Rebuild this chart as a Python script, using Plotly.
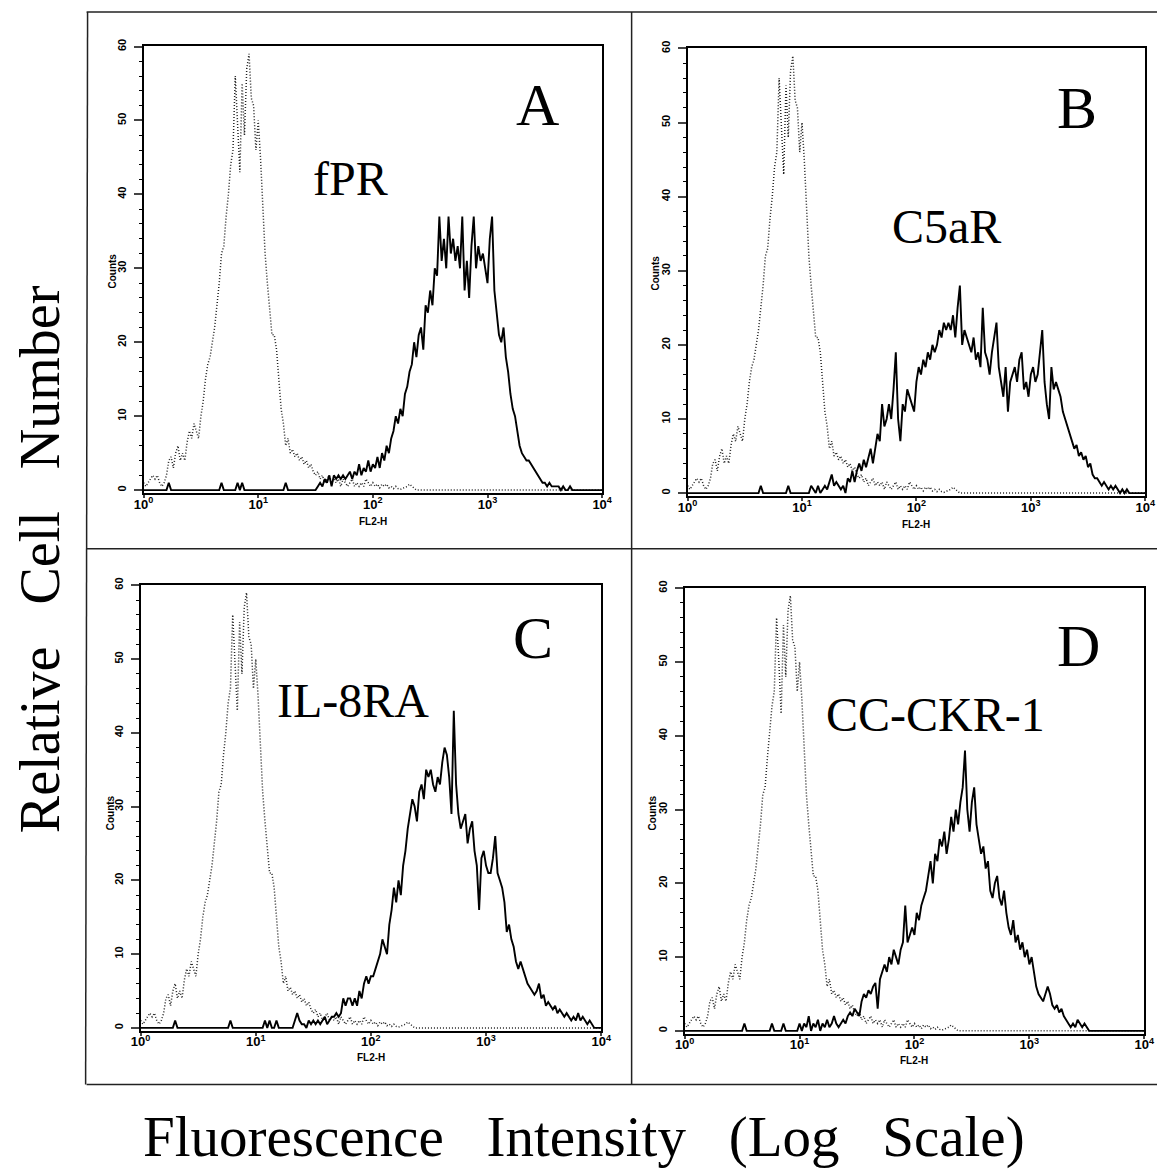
import plotly.graph_objects as go

W, H = 1168, 1169

# FL2-H channel positions: log10 value of each histogram channel (0.02-decade bins)
channel_log10 = [k / 50 for k in range(201)]
channels = [10 ** v for v in channel_log10]

# Shared isotype control (dotted) counts
control_counts = [
    1, 0.5, 1, 1.5, 2, 1.5, 2, 1, 0.5, 1,
    2, 4, 4.5, 3, 5, 6, 4, 5, 4, 6.5,
    8, 7, 9, 8, 7, 10, 12, 15, 17, 18,
    20, 22, 25, 28, 32, 33, 37, 40, 44, 46,
    56, 50, 43, 55, 48, 57, 59, 53, 52, 46,
    50, 45, 38, 32, 28, 24, 21, 21, 19, 15,
    11, 9, 6, 7, 5, 5.5, 4.5, 5, 4, 4.5,
    3.5, 4, 3, 3.5, 2.5, 2, 2.5, 1.5, 2, 1,
    1.5, 2, 1, 1.5, 1, 1.5, 0.5, 1.5, 1, 0.5,
    1, 1.5, 0.5, 1, 0.5, 1, 0.5, 1.5, 1, 0.5,
    1, 0.5, 0.8, 0.3, 0.8, 0.5, 0.8, 0.3, 0.5, 0.2,
    0.5, 0.2, 0.1, 0.2, 0.3, 0.5, 0.8, 0.5, 0.2, 0,
    0, 0, 0, 0, 0, 0, 0, 0, 0, 0,
    0, 0, 0, 0, 0, 0, 0, 0, 0, 0,
    0, 0, 0, 0, 0, 0, 0, 0, 0, 0,
    0, 0, 0, 0, 0, 0, 0, 0, 0, 0,
    0, 0, 0, 0, 0, 0, 0, 0, 0, 0,
    0, 0, 0, 0, 0, 0, 0, 0, 0, 0,
    0, 0, 0, 0, 0, 0, 0, 0, 0, 0,
    0, 0, 0, 0, 0, 0, 0, 0, 0, 0,
    0,
]

fpr_counts = [
    0, 0, 0, 0, 0, 0, 0, 0, 0, 0,
    0, 1, 0, 0, 0, 0, 0, 0, 0, 0,
    0, 0, 0, 0, 0, 0, 0, 0, 0, 0,
    0, 0, 0, 0, 1, 0, 0, 0, 0, 0,
    0, 1, 0, 1, 0, 0, 0, 0, 0, 0,
    0, 0, 0, 0, 0, 0, 0, 0, 0, 0,
    0, 0, 1, 0, 0, 0, 0, 0, 0, 0,
    0, 0, 0, 0, 0, 0, 0.5, 1, 0.5, 1.5,
    1, 2, 0.5, 2, 1.5, 2, 1.5, 2, 1.5, 2,
    2.5, 1.5, 2.5, 2, 3.5, 2, 3, 2.5, 4, 2.5,
    3.5, 3, 4.5, 3, 5, 4, 6, 5, 7, 8,
    10, 9, 11, 10, 13, 14, 16, 17, 20, 18,
    21, 22, 19, 25, 24, 27, 25, 30, 29, 37,
    31, 34, 30, 37, 32, 34, 31, 33, 30, 37,
    27, 31, 26, 33, 37, 30, 33, 31, 32, 30,
    28, 34, 37, 27, 24, 21, 20, 22, 18, 16,
    13, 11, 10, 8, 6, 5, 4.5, 4, 4, 3.5,
    3, 2.5, 2, 1.5, 1, 1, 0.5, 1, 0.5, 0.5,
    0.5, 0.5, 0, 0.5, 0, 0, 0.5, 0, 0, 0,
    0, 0, 0, 0, 0, 0, 0, 0, 0, 0,
    0,
]

c5ar_counts = [
    0, 0, 0, 0, 0, 0, 0, 0, 0, 0,
    0, 0, 0, 0, 0, 0, 0, 0, 0, 0,
    0, 0, 0, 0, 0, 0, 0, 0, 0, 0,
    0, 0, 1, 0, 0, 0, 0, 0, 0, 0,
    0, 0, 0, 0, 1, 0, 0, 0, 0, 0,
    0, 0, 0, 0, 1, 0.5, 0, 1, 0, 0.5,
    1, 0.5, 1.5, 2.5, 1, 1.5, 1, 0.5, 1, 0,
    2, 1.5, 3, 1.5, 3, 4, 3, 4.5, 3.5, 5,
    6, 4, 6, 8, 7, 12, 9, 10, 12, 10,
    14, 19, 10, 7, 12, 11, 14, 13, 12, 11,
    15, 17, 16, 18, 17, 19, 18, 20, 19, 20,
    22, 21, 23, 22, 23, 22, 24, 21, 25, 28,
    20, 22, 21, 20, 19, 21, 18, 19, 17, 25,
    19, 18, 16, 19, 21, 23, 17, 15, 13, 17,
    11, 15, 16, 17, 15, 18, 19, 14, 15, 13,
    16, 17, 15, 16, 19, 22, 15, 12, 10, 17,
    14, 15, 14, 13, 11, 10, 9, 8, 7, 6,
    6.5, 5, 5.5, 4.5, 5, 3.5, 4, 2.5, 2, 2,
    1.5, 1, 1.5, 1, 0.5, 1, 0.5, 1, 0.5, 0,
    0.5, 0, 0.5, 0, 0, 0, 0, 0, 0, 0,
    0,
]

il8ra_counts = [
    0, 0, 0, 0, 0, 0, 0, 0, 0, 0,
    0, 0, 0, 0, 0, 1, 0, 0, 0, 0,
    0, 0, 0, 0, 0, 0, 0, 0, 0, 0,
    0, 0, 0, 0, 0, 0, 0, 0, 0, 1,
    0, 0, 0, 0, 0, 0, 0, 0, 0, 0,
    0, 0, 0, 0, 1, 0, 1, 0, 0, 1,
    0, 0, 0, 0, 0, 0, 0, 1, 2, 1,
    0.5, 0.5, 0, 1, 0.5, 1, 0.5, 1, 0.5, 1,
    1.5, 0.5, 1, 1.5, 1.5, 2, 1.5, 2, 4, 3,
    4, 4, 3, 4, 3, 5, 4, 6, 7, 6,
    7, 7, 8, 9, 10, 12, 11, 10, 14, 16,
    19, 17, 20, 18, 22, 24, 27, 29, 31, 30,
    28, 32, 33, 31, 35, 34, 35, 33, 32, 34,
    33, 36, 38, 37, 34, 29, 43, 33, 29, 27,
    28, 29, 25, 27, 28, 24, 22, 16, 23, 24,
    22, 21, 21, 23, 26, 21, 20, 19, 17, 13,
    14, 12, 11, 9, 8, 9, 8, 7, 6, 5.5,
    5, 4.5, 5, 6, 4, 4.5, 3, 3.5, 3, 2.5,
    3, 2, 2.5, 2, 1.5, 2, 1.5, 1, 1.5, 1,
    2, 1, 1.5, 1, 0.5, 1, 0.5, 0, 0, 0,
    0,
]

ccckr1_counts = [
    0, 0, 0, 0, 0, 0, 0, 0, 0, 0,
    0, 0, 0, 0, 0, 0, 0, 0, 0, 0,
    0, 0, 0, 0, 0, 0, 1, 0, 0, 0,
    0, 0, 0, 0, 0, 0, 0, 0, 1, 0,
    0, 0, 0, 1, 0, 0, 0, 0, 0, 0,
    1, 0, 1, 0.5, 2, 0, 1, 0.5, 1.5, 0,
    1, 0.5, 1.5, 0.5, 1, 2, 1, 0.5, 1, 1.5,
    1, 2, 2.5, 2, 3, 2.5, 2, 4, 5, 4.5,
    5.5, 5, 6, 6.5, 3, 7, 8, 9, 8, 10,
    9, 11, 10, 9, 11, 12, 17, 12, 13, 14,
    13, 16, 15, 17, 18, 19, 21, 23, 20, 24,
    23, 26, 25, 27, 24, 26, 29, 27, 30, 28,
    31, 33, 38, 30, 27, 31, 33, 28, 26, 24,
    25, 22, 23, 19, 18, 20, 21, 18, 17, 19,
    16, 14, 13, 15, 12, 13, 11, 12, 10, 11,
    9, 10, 8, 6, 5, 4.5, 4, 5, 6, 5,
    3.5, 3, 3.5, 2.5, 3, 2, 1.5, 1, 0.5, 1,
    0.5, 1.5, 1, 0.5, 1, 0.5, 0, 0, 0, 0,
    0, 0, 0, 0, 0, 0, 0, 0, 0, 0,
    0, 0, 0, 0, 0, 0, 0, 0, 0, 0,
    0,
]

panel_letters = ["A", "B", "C", "D"]
receptor_names = ["fPR", "C5aR", "IL-8RA", "CC-CKR-1"]
stained_series = [fpr_counts, c5ar_counts, il8ra_counts, ccckr1_counts]
x_tick_values = [1, 10, 100, 1000, 10000]
x_tick_labels = ["10<sup>0</sup>", "10<sup>1</sup>", "10<sup>2</sup>", "10<sup>3</sup>", "10<sup>4</sup>"]
y_tick_values = [0, 10, 20, 30, 40, 50, 60]

# ---- layout geometry (pixels) ----
panel_px = [  # x0, x1, ytop, ybottom
    (136, 603, 39, 489),
    (690, 1156, 41, 492),
    (133, 602, 581, 1030),
    (687, 1155, 584, 1033),
]
letter_pos = [(537, 99), (1087, 102), (533, 635), (1088, 643)]
name_pos = [(347, 173), (954, 221), (349, 698), (942, 712)]
counts_pos = [(104, 266), (657, 268), (102, 811), (654, 811)]
fl2_y = [518, 521, 1057, 1060]


def px(x):
    return x / W


def py(y):
    return 1 - y / H


fig = go.Figure()
layout = dict(
    width=W, height=H, margin=dict(l=0, r=0, t=0, b=0), autosize=False,
    paper_bgcolor="white", plot_bgcolor="white", showlegend=False,
)
annotations = []
tick_font = dict(family="Liberation Sans", size=13, color="black", weight="bold")
serif = "Liberation Serif"

for i in range(4):
    n = "" if i == 0 else str(i + 1)
    x0, x1, yt, yb = panel_px[i]
    layout["xaxis" + n] = dict(
        domain=[px(x0), px(x1)], type="log", range=[0, 4], anchor="y" + n,
        tickvals=x_tick_values, ticktext=x_tick_labels, ticks="outside", ticklen=3,
        tickwidth=1.5, showline=True, linewidth=2, linecolor="black", mirror=True,
        showgrid=False, zeroline=False, tickfont=tick_font, ticklabelstandoff=-5,
    )
    layout["yaxis" + n] = dict(
        domain=[py(yb), py(yt)], range=[-0.4, 60.1], anchor="x" + n,
        tickvals=y_tick_values, tickangle=-90, ticks="outside", ticklen=8, tickwidth=1.5,
        minor=dict(dtick=2, ticks="outside", ticklen=3, tickwidth=1.2, tickcolor="black"),
        showline=True, linewidth=2, linecolor="black", mirror=True,
        showgrid=False, zeroline=False, ticklabelstandoff=3,
        tickfont=dict(family="Liberation Sans", size=11, color="black", weight="bold"),
    )
    fig.add_trace(go.Scatter(
        x=channels, y=control_counts, mode="lines", xaxis="x" + n, yaxis="y" + n,
        line=dict(color="#222", width=1.5, dash="1px,2px"),
    ))
    fig.add_trace(go.Scatter(
        x=channels, y=stained_series[i], mode="lines", xaxis="x" + n, yaxis="y" + n,
        line=dict(color="black", width=1.9),
    ))
    lx, ly = letter_pos[i]
    annotations.append(dict(text=panel_letters[i], x=px(lx), y=py(ly), xref="paper", yref="paper",
                            showarrow=False, xanchor="center", yanchor="middle",
                            font=dict(family=serif, size=60, color="black")))
    nx, ny = name_pos[i]
    annotations.append(dict(text=receptor_names[i], x=px(nx), y=py(ny), xref="paper", yref="paper",
                            showarrow=False, xanchor="center", yanchor="middle",
                            font=dict(family=serif, size=48, color="black")))
    cx, cy = counts_pos[i]
    annotations.append(dict(text="Counts", x=px(cx), y=py(cy), xref="paper", yref="paper",
                            showarrow=False, xanchor="center", yanchor="middle", textangle=-90,
                            font=dict(family="Liberation Sans", size=10, color="black", weight="bold")))
    # FL2-H axis title centred under the 10^2 tick (log axis: position given as log10)
    annotations.append(dict(text="FL2-H", x=2, y=py(fl2_y[i]), xref="x" + n, yref="paper",
                            showarrow=False, xanchor="center", yanchor="middle",
                            font=dict(family="Liberation Sans", size=10, color="black", weight="bold")))

sp = "\u00a0\u00a0\u00a0"
annotations.append(dict(text="Fluorescence" + sp + "Intensity" + sp + "(Log" + sp + "Scale)",
                        x=px(585), y=py(1137), xref="paper", yref="paper", showarrow=False,
                        xanchor="center", yanchor="middle",
                        font=dict(family=serif, size=57, color="black")))
annotations.append(dict(text="Relative" + sp + "Cell" + sp + "Number",
                        x=px(30), y=py(555), xref="paper", yref="paper", showarrow=False,
                        xanchor="center", yanchor="middle", textangle=-90,
                        font=dict(family=serif, size=56, color="black")))
layout["annotations"] = annotations

# outer frame and dividers
frame_lines = [
    (78, 5, 1168, 5), (78, 545, 1168, 545), (78, 1084, 1168, 1084),
    (79, 5, 77, 1084), (633, 5, 633, 1084),
]
layout["shapes"] = [
    dict(type="line", xref="paper", yref="paper", x0=px(a), y0=py(b), x1=px(c), y1=py(d),
         line=dict(color="#222", width=1.5))
    for a, b, c, d in frame_lines
]

fig.update_layout(**layout)

post = (
    "document.documentElement.style.margin='0';"
    "document.body.style.margin='0';document.body.style.padding='0';"
    "document.body.style.overflow='hidden';"
)
fig.write_html(
    "out.html",
    config={"displayModeBar": False},
    post_script=post,
)
